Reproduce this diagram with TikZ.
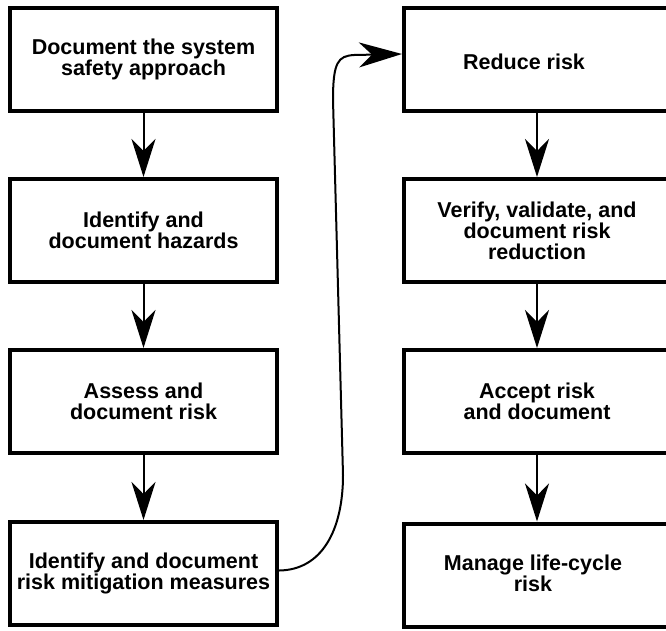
\documentclass[tikz,border=0pt]{standalone}
\usepackage{fontspec}
\setmainfont{Liberation Sans}
\usetikzlibrary{arrows.meta}
\begin{document}
\begin{tikzpicture}[x=1pt,y=-1pt,
  stepbox/.style={draw, line width=4pt, minimum width=267pt, minimum height=103pt,
    inner sep=0pt, align=center, font=\fontsize{21.5}{21}\selectfont\bfseries},
  flow/.style={line width=2pt, -{Stealth[length=38pt,width=24pt,inset=12pt]}},
  loopback/.style={line width=2pt, -{Stealth[length=43pt,width=25pt,inset=13pt]}}]
\useasboundingbox (0,0) rectangle (666,630);
\fill[white] (0,0) rectangle (666,630);
\clip (0,0) rectangle (666,630);

% left column
\node[stepbox] (l1) at (143.5,59.5) {Document the system\\safety approach};
\node[stepbox] (l2) at (143.5,230.5) {Identify and\\document hazards};
\node[stepbox] (l3) at (143.5,401.5) {Assess and\\document risk};
\node[stepbox] (l4) at (143.5,573.5) {Identify and document\\risk mitigation measures};

% right column (runs past the right edge)
\node[stepbox, minimum width=266pt] (r1) at (537,59.5) {};
\node[stepbox, minimum width=266pt] (r2) at (537,230.5) {Verify, validate, and\\document risk\\reduction};
\node[stepbox, minimum width=266pt] (r3) at (537,401.5) {Accept risk\\and document};
\node[stepbox, minimum width=266pt] (r4) at (537,575) {};
\node[font=\fontsize{21.5}{21}\selectfont\bfseries] (r1t) at (524,62) {Reduce risk};
\node[font=\fontsize{21.5}{21}\selectfont\bfseries, align=center] (r4t) at (533,573) {Manage life-cycle\\risk};

% straight connectors
\draw[flow] (l1) -- (l2);
\draw[flow] (l2) -- (l3);
\draw[flow] (l3) -- (l4);
\draw[flow] (r1) -- (r2);
\draw[flow] (r2) -- (r3);
\draw[flow] (r3) -- (r4);

% loop from the last left step up to the first right step
\draw[loopback] ([yshift=3pt]l4.east)
  .. controls (322,570) and (343,530) .. (343,475)
  -- (333,100)
  .. controls (333,62) and (338,56) .. (354,55)
  -- ([yshift=5.5pt]r1.west);
\end{tikzpicture}
\end{document}
